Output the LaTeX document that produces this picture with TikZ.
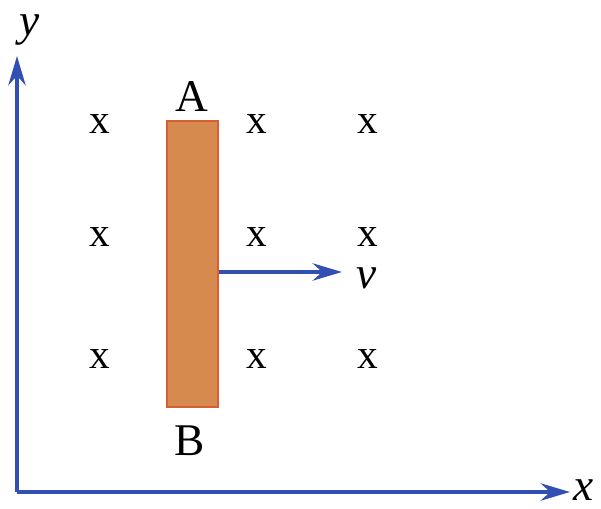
\documentclass[tikz,border=0pt]{standalone}
\usepackage{fontspec}
\setmainfont{Liberation Serif}
\usetikzlibrary{arrows.meta}
\definecolor{axisblue}{RGB}{50,80,180}
\definecolor{rodfill}{RGB}{214,138,78}
\definecolor{rodedge}{RGB}{215,95,55}
\tikzset{
  axis/.style={draw=axisblue, line width=2.8pt, -{Stealth[length=22pt,width=13pt]}},
  lbl/.style={font=\fontsize{34}{38}\selectfont, inner sep=0pt},
  cross/.style={font=\fontsize{31}{35}\selectfont, inner sep=0pt},
}
\begin{document}
\begin{tikzpicture}[x=0.75pt,y=-0.75pt]
\useasboundingbox (0,0) rectangle (601,509);
% axes
\coordinate (O) at (17,492);
\coordinate (Ytip) at (17,56);
\coordinate (Xtip) at (570,492);
\draw[axis] (O) -- (Ytip);
\draw[axis] (O) -- (Xtip);
\node[lbl] (ylab) at (30,30) {\textit{y}};
\node[lbl] (xlab) at (584,490) {\textit{x}};
% rod
\node[draw=rodedge, fill=rodfill, line width=1.5pt, minimum width=38pt, minimum height=215pt, inner sep=0pt] (rod) at (192.5,264) {};
\node[lbl] (A) at (192,97) {A};
\node[lbl] (B) at (190,441) {B};
% crosses
\foreach \c/\xx in {1/100,2/257,3/368}{
  \foreach \r/\yy in {1/124,2/237,3/359}{
    \node[cross] (x\c\r) at (\xx,\yy) {x};
  }
}
% velocity
\coordinate (vend) at (342,272);
\draw[axis] (rod.east |- vend) -- (vend);
\node[lbl] (v) at (367,278) {\textit{v}};
\end{tikzpicture}
\end{document}
